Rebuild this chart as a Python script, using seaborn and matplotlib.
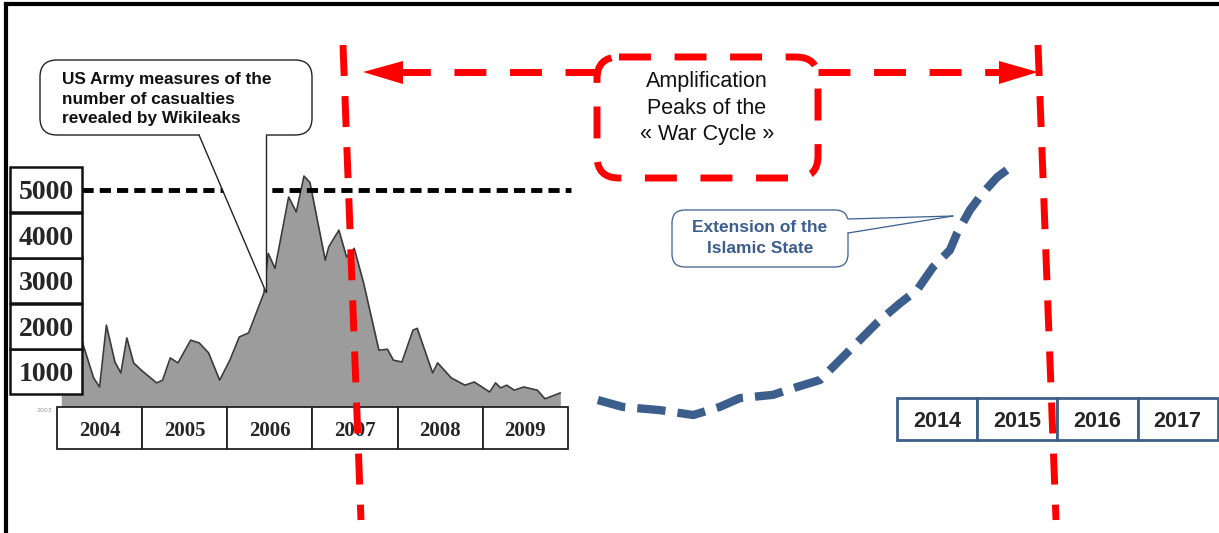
import matplotlib
matplotlib.use("Agg")
import matplotlib.pyplot as plt
import seaborn as sns
from matplotlib.patches import Rectangle, FancyBboxPatch, Polygon

# monthly casualties (US Army figures revealed by Wikileaks)
months = [2004.05, 2004.20, 2004.29, 2004.43, 2004.50, 2004.58, 2004.68, 2004.75, 2004.82, 2004.90, 2004.99,
          2005.17, 2005.24, 2005.33, 2005.42, 2005.57, 2005.67, 2005.78, 2005.91,
          2006.03, 2006.14, 2006.25, 2006.43, 2006.48, 2006.56, 2006.72, 2006.81, 2006.90, 2006.97,
          2007.15, 2007.19, 2007.31, 2007.40, 2007.49, 2007.60, 2007.78, 2007.88, 2007.95,
          2008.05, 2008.18, 2008.23, 2008.41, 2008.47, 2008.63, 2008.79, 2008.90,
          2009.08, 2009.15, 2009.21, 2009.28, 2009.37, 2009.48, 2009.64, 2009.73, 2009.91]
casualties = [1400, 1900, 1690, 860, 660, 2020, 1210, 970, 1740, 1190, 1030,
              750, 810, 1300, 1190, 1690, 1630, 1410, 810,
              1250, 1760, 1850, 2730, 3600, 3270, 4840, 4510, 5300, 5160,
              3450, 3740, 4110, 3520, 3710, 2950, 1470, 1490, 1250,
              1210, 1910, 1950, 970, 1190, 860, 700, 770,
              550, 750, 640, 700, 590, 660, 590, 400, 530]
y_labels = [1000, 2000, 3000, 4000, 5000]
past_years = ["2004", "2005", "2006", "2007", "2008", "2009"]
ref_level = 5000

# extension of the Islamic State (relative extent, 0-100)
is_years = [2010.27, 2010.58, 2011.04, 2011.46, 2011.79, 2012.04, 2012.45, 2012.75, 2013.04, 2013.25,
            2013.50, 2013.75, 2014.04, 2014.25, 2014.45, 2014.66, 2014.75, 2014.91, 2015.07, 2015.25, 2015.37]
is_extent = [6.1, 3.3, 2.0, 0.0, 3.3, 6.9, 8.2, 11.4, 14.3, 21.2,
             29.4, 37.6, 45.7, 51.0, 60.4, 67.3, 74.3, 83.7, 90.6, 97.1, 100.0]
future_years = ["2014", "2015", "2016", "2017"]

RED = "#ff0000"
BLUE = "#3c5e8d"
W, H = 1219, 533

sns.set_style("white")
fig = plt.figure(figsize=(W / 100, H / 100), dpi=100)

# ---- left chart: casualties ----
ax_c = fig.add_axes([57 / W, (H - 417) / H, 511 / W, 250 / H])
ax_c.fill_between(months, casualties, 0, color="#9c9c9c", lw=0, zorder=1)
sns.lineplot(x=months, y=casualties, ax=ax_c, color="#3a3a3a", lw=1.2, zorder=2)
ax_c.set_xlim(2004, 2010)
ax_c.set_ylim(0, 5500)
ax_c.axis("off")
ax_c.axhline(ref_level, xmin=0.049, xmax=1.006, color="black", lw=3.5,
             dashes=(2.3, 1.25), clip_on=False, zorder=3)

ytr = ax_c.get_yaxis_transform()
for v in y_labels:
    ax_c.add_patch(Rectangle((-0.092, v - 495), 0.141, 990, transform=ytr, fc="white",
                             ec="#111111", lw=1.8, clip_on=False, zorder=5))
    ax_c.text(-0.0215, v, str(v), transform=ytr, ha="center", va="center_baseline",
              fontsize=20, family="Liberation Serif", weight="bold", zorder=6)

for i, lab in enumerate(past_years):
    yr = 2004 + i
    ax_c.add_patch(Rectangle((yr, -704), 1, 924, fc="white", ec="#222222", lw=1.3,
                             clip_on=False, zorder=5))
    ax_c.text(yr + 0.5, -250, lab, ha="center", va="center_baseline", fontsize=15,
              family="Liberation Serif", weight="bold", zorder=6)

# ---- right part: IS extension and future years ----
ppy = 80.2
ax_r = fig.add_axes([580 / W, 0, (W - 580) / W, 1])
ax_r.set_xlim(2014 - (897 - 580) / ppy, 2014 + (W - 897) / ppy)
ax_r.set_ylim((415 - H) / 2.45, 415 / 2.45)
ax_r.axis("off")
sns.lineplot(x=is_years, y=is_extent, sort=False, ax=ax_r, color=BLUE, lw=6)
ax_r.lines[-1].set_dashes((3.4, 1.45))
for i, lab in enumerate(future_years):
    yr = 2014 + i
    ax_r.add_patch(Rectangle((yr, -10.2), 1, 17.1, fc="white", ec="#3f5f8a", lw=2,
                             clip_on=False, zorder=5))
    ax_r.text(yr + 0.5, -1.6, lab, ha="center", va="center_baseline", fontsize=15.5,
              family="Liberation Sans", weight="bold", zorder=6)

# ---- overlay: frame, red cycle markers, callouts ----
ax = fig.add_axes([6 / W, 0, (W - 6) / W, (H - 4) / H])
ax.set_xlim(6, W)
ax.set_ylim(H, 4)
ax.patch.set_alpha(0)
ax.set_xticks([])
ax.set_yticks([])
for side in ["right", "bottom"]:
    ax.spines[side].set_visible(False)
for side in ["top", "left"]:
    ax.spines[side].set_linewidth(3)
    ax.spines[side].set_color("black")

ax.plot([343, 361], [45, 520], color=RED, lw=5, dashes=(4.46, 2.9))
ax.plot([1038, 1056], [45, 520], color=RED, lw=5, dashes=(4.46, 2.9))
ax.plot([597, 402], [72, 72], color=RED, lw=5, dashes=(4.6, 3.4))
ax.plot([818, 1000], [72, 72], color=RED, lw=5, dashes=(4.6, 3.4))
ax.add_patch(Polygon([(363, 72), (403, 61), (403, 84)], color=RED, lw=0))
ax.add_patch(Polygon([(1038, 72), (999, 61), (999, 84)], color=RED, lw=0))
ax.add_patch(FancyBboxPatch((597, 57), 221, 121, boxstyle="round,pad=0,rounding_size=22",
                            fill=False, ec=RED, lw=5, linestyle=(0, (4.6, 3.4))))
ax.text(707, 108, "Amplification\nPeaks of the\n« War Cycle »", ha="center", va="center",
        fontsize=15.5, linespacing=1.32, family="Liberation Sans", color="#111111")

# US Army callout
ax.add_patch(FancyBboxPatch((40, 60), 272, 75, boxstyle="round,pad=0,rounding_size=17",
                            fc="white", ec="#222222", lw=1, zorder=4))
ax.add_patch(Polygon([(199, 133), (266, 133), (266, 292)], fc="white", lw=0, zorder=5))
ax.plot([199, 266], [135, 292], color="#222222", lw=1, zorder=6)
ax.plot([266, 266], [135, 292], color="#222222", lw=1, zorder=6)
ax.text(62, 99, "US Army measures of the\nnumber of casualties\nrevealed by Wikileaks",
        ha="left", va="center", fontsize=12.4, linespacing=1.36, family="Liberation Sans",
        weight="bold", color="#111111", zorder=7)

# Islamic State callout
ax.add_patch(FancyBboxPatch((672, 210), 176, 57, boxstyle="round,pad=0,rounding_size=13",
                            fc="white", ec=BLUE, lw=0.9, zorder=4))
ax.add_patch(Polygon([(845, 219), (953, 216), (845, 233)], fc="white", lw=0, zorder=5))
ax.plot([848, 953], [219, 216], color=BLUE, lw=0.9, zorder=6)
ax.plot([848, 953], [233, 216], color=BLUE, lw=0.9, zorder=6)
ax.text(760, 238, "Extension of the\nIslamic State", ha="center", va="center",
        fontsize=12.5, linespacing=1.45, family="Liberation Sans", weight="bold",
        color=BLUE, zorder=7)

ax.text(44, 411, "2003", fontsize=4.5, color="#999999", ha="center", va="center")

fig.savefig("out.png", dpi=100)
